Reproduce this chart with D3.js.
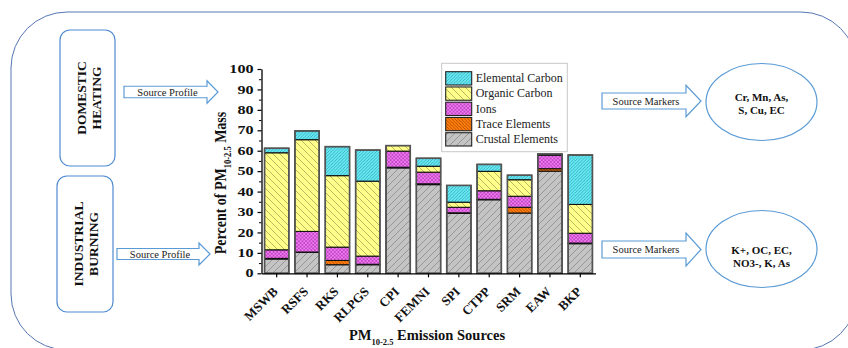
<!DOCTYPE html>
<html>
<head>
<meta charset="utf-8">
<script src="https://cdn.jsdelivr.net/npm/d3@7"></script>
<style>
  html, body { margin: 0; padding: 0; background: #fff; }
  svg { display: block; }
  svg text { font-family: "Liberation Serif", "DejaVu Serif", serif !important; }
</style>
</head>
<body>
<svg id="fig" width="848" height="348" font-family="Liberation Serif, serif"></svg>
<script>
// PM10-2.5 chemical composition by emission source (% of mass)
const categories = ["MSWB", "RSFS", "RKS", "RLPGS", "CPI", "FEMNI", "SPI", "CTPP", "SRM", "EAW", "BKP"];
const crustal    = [7.0, 10.2, 4.2, 4.2, 51.6, 43.4, 29.3, 36.0, 29.5, 50.0, 14.5];
const trace      = [0.3, 0.2, 2.1, 0.2, 0.3, 0.4, 0.3, 0.2, 2.8, 1.2, 0.3];
const ions       = [4.2, 10.1, 6.5, 4.0, 7.9, 5.7, 2.7, 4.2, 5.4, 6.6, 4.8];
const organicC   = [47.5, 44.9, 35.0, 36.7, 2.7, 2.9, 2.5, 9.5, 8.1, 0.3, 14.1];
const elementalC = [2.2, 4.3, 14.2, 15.2, 0.0, 3.9, 8.2, 3.4, 2.2, 0.3, 24.2];
const yTicks = [0, 10, 20, 30, 40, 50, 60, 70, 80, 90, 100];
const yMinorTicks = [5, 15, 25, 35, 45, 55, 65, 75, 85, 95];
const seriesNames = ["Elemental Carbon", "Organic Carbon", "Ions", "Trace Elements", "Crustal Elements"];
const seriesKeys  = ["ec", "oc", "ions", "trace", "crustal"];

const rows = categories.map((c, i) => ({
  cat: c, crustal: crustal[i], trace: trace[i], ions: ions[i], oc: organicC[i], ec: elementalC[i]
}));

const SERIF = "Liberation Serif, serif";
const svg = d3.select("#fig");
const defs = svg.append("defs");

// hatch fills
function hatch(id, bg, ink, size, dir, width, cross) {
  const p = defs.append("pattern").attr("id", id)
    .attr("patternUnits", "userSpaceOnUse").attr("width", size).attr("height", size);
  p.append("rect").attr("width", size).attr("height", size).attr("fill", bg);
  const s = size;
  const fwd = `M0,${s} L${s},0 M${-1},1 L1,${-1} M${s - 1},${s + 1} L${s + 1},${s - 1}`;
  const bwd = `M0,0 L${s},${s} M${-1},${s - 1} L1,${s + 1} M${s - 1},${-1} L${s + 1},1`;
  const d = cross ? fwd + " " + bwd : (dir === "/" ? fwd : bwd);
  p.append("path").attr("d", d).attr("stroke", ink).attr("stroke-width", width).attr("fill", "none");
}
hatch("pat-ec", "#68e8ef", "#2fa9c2", 3.2, "/", 0.8, false);
hatch("pat-oc", "#ffff8a", "#9c9a52", 7, "\\", 0.7, false);
hatch("pat-ions", "#f27af2", "#b23ab4", 3.6, null, 0.7, true);
hatch("pat-trace", "#ff7f0e", "#a84400", 3.2, "\\", 0.8, false);
hatch("pat-crustal", "#c4c4c4", "#8a8a8a", 7, "/", 0.8, false);
const fills = { ec: "url(#pat-ec)", oc: "url(#pat-oc)", ions: "url(#pat-ions)", trace: "url(#pat-trace)", crustal: "url(#pat-crustal)" };

// ---------- surrounding diagram ----------
const frameBlue = "#5676b4";
const boxBlue = "#4f8ad0";
const arrowBlue = "#5b9bd5";

svg.append("rect").attr("x", 11).attr("y", 12).attr("width", 846).attr("height", 338)
  .attr("rx", 56).attr("ry", 56).attr("fill", "none").attr("stroke", frameBlue).attr("stroke-width", 1);

function roundBox(x, y, w, h, lines, cx, cy) {
  svg.append("rect").attr("x", x).attr("y", y).attr("width", w).attr("height", h)
    .attr("rx", 10).attr("ry", 10).attr("fill", "#fff").attr("stroke", boxBlue).attr("stroke-width", 1.2);
  const t = svg.append("text").attr("transform", `translate(${cx},${cy}) rotate(-90)`)
    .attr("font-family", SERIF)
    .attr("text-anchor", "middle").attr("font-weight", "bold").attr("font-size", 13.5).attr("fill", "#111");
  lines.forEach((l, i) => t.append("tspan").attr("x", 0).attr("y", (i - (lines.length - 1) / 2) * 15 + 5).text(l));
}
roundBox(60, 30, 55, 136, ["DOMESTIC", "HEATING"], 88, 98);
roundBox(57, 176, 56, 136, ["INDUSTRIAL", "BURNING"], 85, 244);

function blockArrow(x0, x1, headX, cy, shaftH, headH, label, fs) {
  const st = cy - shaftH / 2, sb = cy + shaftH / 2, ht = cy - headH / 2, hb = cy + headH / 2;
  svg.append("path")
    .attr("d", `M${x0},${st} L${headX},${st} L${headX},${ht} L${x1},${cy} L${headX},${hb} L${headX},${sb} L${x0},${sb} Z`)
    .attr("fill", "#fff").attr("stroke", arrowBlue).attr("stroke-width", 1.2);
  svg.append("text").attr("x", (x0 + headX) / 2 + 2).attr("y", cy + 3.5).attr("text-anchor", "middle")
    .attr("font-family", SERIF).attr("font-size", fs).attr("fill", "#222").text(label);
}
blockArrow(124, 218, 207, 92, 11.5, 22.5, "Source Profile", 10.5);
blockArrow(117, 210, 199, 254, 11, 22, "Source Profile", 10.5);
blockArrow(602, 701, 686, 101, 16, 31.5, "Source Markers", 10.5);
blockArrow(602, 701, 686, 249.5, 17, 33, "Source Markers", 10.5);

function markerEllipse(cx, cy, lines, ys) {
  svg.append("ellipse").attr("cx", cx).attr("cy", cy).attr("rx", 55.5).attr("ry", 38.5)
    .attr("fill", "#fff").attr("stroke", arrowBlue).attr("stroke-width", 1.2);
  lines.forEach((l, i) => svg.append("text").attr("x", cx).attr("y", ys[i]).attr("text-anchor", "middle")
    .attr("font-family", SERIF)
    .attr("font-weight", "bold").attr("font-size", 11).attr("fill", "#111").text(l));
}
markerEllipse(761.5, 102, ["Cr, Mn, As,", "S, Cu, EC"], [101, 114]);
markerEllipse(761.5, 249, ["K+, OC, EC,", "NO3-, K, As"], [254, 266.5]);

// ---------- stacked bar chart ----------
const x = d3.scaleBand().domain(categories).range([261.5, 595.5]).paddingInner(0.2).paddingOuter(0.1);
const y = d3.scaleLinear().domain([0, 100]).range([273.3, 69]);

const stack = d3.stack().keys(["crustal", "trace", "ions", "oc", "ec"]);
const layers = stack(rows);

const plot = svg.append("g");
layers.forEach(layer => {
  plot.append("g").selectAll("rect").data(layer).join("rect")
    .attr("x", d => x(d.data.cat))
    .attr("y", d => y(d[1]))
    .attr("width", x.bandwidth())
    .attr("height", d => Math.max(0, y(d[0]) - y(d[1])))
    .attr("fill", fills[layer.key])
    .attr("stroke", "#111").attr("stroke-width", 1.1);
});
// bar outlines
plot.append("g").selectAll("rect").data(rows).join("rect")
  .attr("x", d => x(d.cat))
  .attr("y", d => y(d.crustal + d.trace + d.ions + d.oc + d.ec))
  .attr("width", x.bandwidth())
  .attr("height", d => y(0) - y(d.crustal + d.trace + d.ions + d.oc + d.ec))
  .attr("fill", "none").attr("stroke", "#555").attr("stroke-width", 1.6);

// axes
const stretch = 1.4;
const yAxis = svg.append("g").attr("transform", `translate(${x.range()[0]},0)`)
  .call(d3.axisLeft(y).tickValues(yTicks).tickSize(4).tickSizeOuter(0).tickPadding(3));
yAxis.attr("font-family", SERIF);
yAxis.select(".domain").attr("stroke", "#000").attr("stroke-width", 1.3);
yAxis.selectAll(".tick line").attr("stroke", "#000").attr("stroke-width", 1.2);
yAxis.selectAll(".tick text")
  .attr("font-family", SERIF).attr("font-weight", "bold").attr("font-size", 11.5)
  .attr("fill", "#111")
  .attr("transform", `scale(${stretch},1)`)
  .attr("x", -8 / stretch);
svg.append("g").attr("transform", `translate(${x.range()[0]},0)`)
  .call(d3.axisLeft(y).tickValues(yMinorTicks).tickSize(2.5).tickFormat(""))
  .call(g => g.select(".domain").remove())
  .selectAll(".tick line").attr("stroke", "#000").attr("stroke-width", 1);

const xAxis = svg.append("g").attr("transform", `translate(0,${y(0)})`)
  .call(d3.axisBottom(x).tickSize(4).tickSizeOuter(0).tickPadding(3));
xAxis.attr("font-family", SERIF);
xAxis.select(".domain").attr("stroke", "#000").attr("stroke-width", 1.3);
xAxis.selectAll(".tick line").attr("stroke", "#000").attr("stroke-width", 1.2);
xAxis.selectAll(".tick text")
  .attr("font-family", SERIF).attr("font-weight", "bold").attr("font-size", 13)
  .attr("fill", "#111")
  .attr("text-anchor", "end")
  .attr("dy", null).attr("y", null)
  .attr("transform", "translate(2,19) rotate(-45)");

// axis titles
const yt = svg.append("text")
  .attr("transform", `translate(226,183) rotate(-90) scale(1,${1.25})`)
  .attr("font-family", SERIF)
  .attr("text-anchor", "middle").attr("font-weight", "bold").attr("font-size", 14).attr("fill", "#111");
yt.append("tspan").text("Percent of PM");
yt.append("tspan").attr("font-size", 8.5).attr("dy", 4).text("10-2.5");
yt.append("tspan").attr("dy", -4).text("  Mass");

const xt = svg.append("text").attr("x", 427).attr("y", 340)
  .attr("font-family", SERIF)
  .attr("text-anchor", "middle").attr("font-weight", "bold").attr("font-size", 14.5).attr("fill", "#111");
xt.append("tspan").text("PM");
xt.append("tspan").attr("font-size", 8.5).attr("dy", 5).text("10-2.5");
xt.append("tspan").attr("dy", -5).text("  Emission Sources");

// legend
const lg = svg.append("g");
lg.append("rect").attr("x", 441.7).attr("y", 63.3).attr("width", 125.6).attr("height", 88.4)
  .attr("fill", "#fff").attr("stroke", "#c8c8c8").attr("stroke-width", 1);
seriesKeys.forEach((k, i) => {
  const yy = 71.7 + i * 15.25;
  lg.append("rect").attr("x", 445.7).attr("y", yy).attr("width", 26).attr("height", 13.3)
    .attr("fill", fills[k]).attr("stroke", "#222").attr("stroke-width", 1.1);
  lg.append("text").attr("x", 475.7).attr("y", yy + 10.5).attr("font-size", 12).attr("fill", "#222")
    .attr("font-family", SERIF).text(seriesNames[i]);
});
</script>
</body>
</html>
